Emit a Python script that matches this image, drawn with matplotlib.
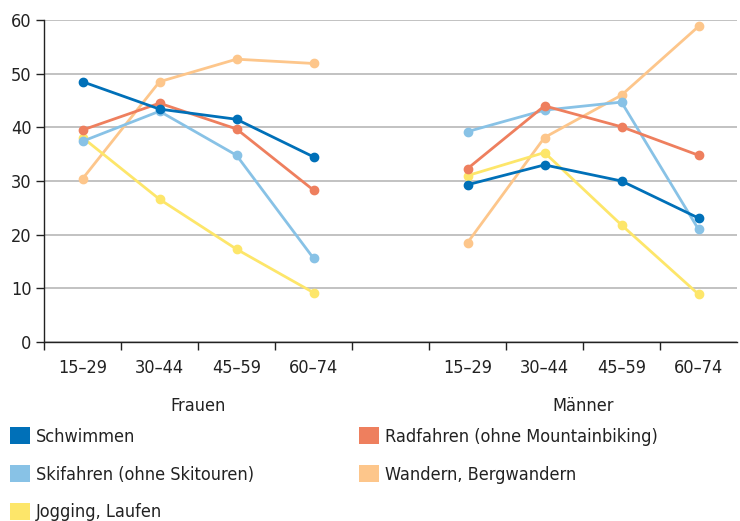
import matplotlib
matplotlib.use("Agg")
import matplotlib.pyplot as plt
from matplotlib.patches import Patch

plt.rcParams['font.family'] = ['DejaVu Sans']
plt.rcParams['font.stretch'] = 'condensed'

age_groups = ["15–29", "30–44", "45–59", "60–74"]
groups = ["Frauen", "Männer"]
series = ["Schwimmen", "Skifahren (ohne Skitouren)", "Jogging, Laufen",
          "Radfahren (ohne Mountainbiking)", "Wandern, Bergwandern"]
colors = ["#0070b8", "#88c2e6", "#fde66a", "#ee7f5e", "#fdc68b"]

frauen = {
    "Schwimmen": [48.5, 43.4, 41.5, 34.5],
    "Skifahren (ohne Skitouren)": [37.4, 43.0, 34.8, 15.6],
    "Jogging, Laufen": [38.1, 26.6, 17.3, 9.2],
    "Radfahren (ohne Mountainbiking)": [39.5, 44.5, 39.7, 28.3],
    "Wandern, Bergwandern": [30.4, 48.5, 52.7, 51.9],
}
maenner = {
    "Schwimmen": [29.3, 33.0, 30.0, 23.1],
    "Skifahren (ohne Skitouren)": [39.2, 43.2, 44.7, 21.0],
    "Jogging, Laufen": [31.0, 35.3, 21.8, 8.9],
    "Radfahren (ohne Mountainbiking)": [32.3, 44.0, 40.1, 34.8],
    "Wandern, Bergwandern": [18.5, 38.1, 46.0, 58.8],
}

fig = plt.figure(figsize=(7.4, 5.21), dpi=100)
ax = fig.add_axes([44/740, 1-342/521, 693/740, 322/521])

xf = [0, 1, 2, 3]
xm = [5, 6, 7, 8]
draw_order = ["Wandern, Bergwandern", "Jogging, Laufen", "Skifahren (ohne Skitouren)",
              "Radfahren (ohne Mountainbiking)", "Schwimmen"]
cmap = dict(zip(series, colors))
for s in draw_order:
    for xs, d in ((xf, frauen), (xm, maenner)):
        ax.plot(xs, d[s], color=cmap[s], lw=2.0, marker='o', ms=6, mec=cmap[s], zorder=3)

ax.set_xlim(-0.5, 8.5)
ax.set_ylim(0, 60)
ax.set_yticks(range(0, 61, 10))
ax.grid(axis='y', color='#b8b8b8', lw=1.2)
ax.set_axisbelow(True)
ax.set_xticks([i - 0.5 for i in range(10)][:-1])
ax.set_xticklabels([])
ax.set_xticks(xf + xm, minor=True)
ax.set_xticklabels(age_groups + age_groups, minor=True)
ax.tick_params(axis='x', which='major', length=6, width=1, color='#222222')
ax.tick_params(axis='x', which='minor', length=0, pad=12, labelsize=13, labelcolor='#222222')
ax.tick_params(axis='y', length=6, width=1, labelsize=13, labelcolor='#222222', color='#222222', pad=3)
for sp in ('top', 'right'):
    ax.spines[sp].set_visible(False)
for sp in ('left', 'bottom'):
    ax.spines[sp].set_color('#222222')
    ax.spines[sp].set_linewidth(1.0)

ax.text(1.5, -12.0, groups[0], ha='center', va='center', fontsize=13, color='#222222')
ax.text(6.5, -12.0, groups[1], ha='center', va='center', fontsize=13, color='#222222')

handles = [Patch(facecolor=c, edgecolor='none') for c in colors]
leg = fig.legend(handles, series, ncol=2, loc='upper left', bbox_to_anchor=(10/740, 1-427/521),
           frameon=False, fontsize=13, handlelength=1.1, handleheight=1.1,
           handletextpad=0.35, columnspacing=5.8, labelspacing=1.05, borderaxespad=0,
           borderpad=0, labelcolor='#222222')

fig.savefig("out.png", dpi=100)
